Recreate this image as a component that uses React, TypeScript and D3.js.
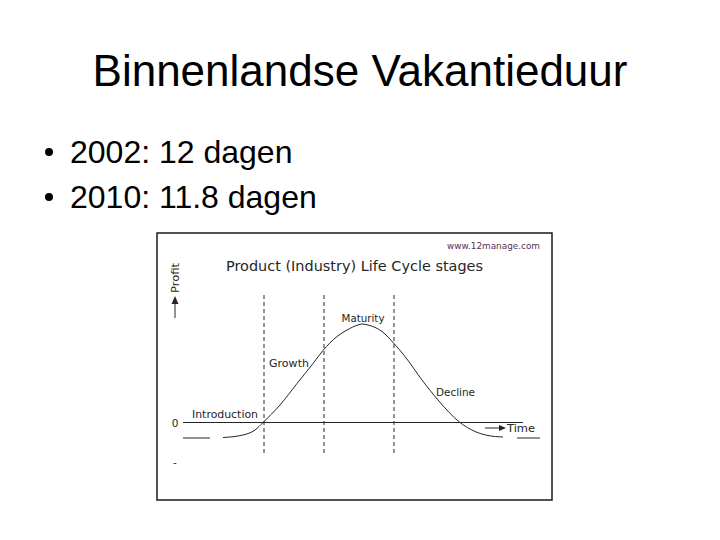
import React from 'react';
import * as d3 from 'd3';

// slide text
const slideTitle = 'Binnenlandse Vakantieduur';
const bulletLines = ['2002: 12 dagen', '2010: 11.8 dagen'];

// life cycle figure
const figTitle = 'Product (Industry) Life Cycle stages';
const sourceLabel = 'www.12manage.com';
const stageNames = ['Introduction', 'Growth', 'Maturity', 'Decline'];
const stageBounds = [8.1, 14.1, 21.1];

// profit curve (time, profit)
const curveTime = [4.0, 6.0, 7.2, 8.0, 9.7, 11.4, 13.0, 14.0, 15.4, 16.4, 17.5, 17.9, 18.5, 19.9, 21.1, 22.2, 23.9, 25.5, 27.7, 29.2, 30.5, 32.0];
const curveProfit = [-1.5, -1.25, -0.75, 0, 1.75, 3.9, 5.9, 7.2, 8.6, 9.25, 9.75, 9.85, 9.75, 9.1, 7.9, 6.6, 4.25, 2.25, 0, -0.9, -1.3, -1.45];
const leftTail = [0, 2.7];
const rightTail = [33.4, 35.7];
const tailProfit = -1.55;

const App = () => {
  const x = d3.scaleLinear().domain([0, 34]).range([183, 523]);
  const y = d3.scaleLinear().domain([0, 10]).range([422.5, 322.5]);

  const pts: [number, number][] = curveTime.map((t, i) => [t, curveProfit[i]]);
  const line = d3
    .line<[number, number]>()
    .x((d) => x(d[0]))
    .y((d) => y(d[1]))
    .curve(d3.curveMonotoneX);

  const ink = '#262626';
  const small = { fontFamily: 'DejaVu Sans, sans-serif', fontSize: 10.5, fill: ink };

  return (
    <svg width={720} height={540} style={{ position: 'absolute', left: 0, top: 0, background: '#fff' }}>
      <text x={360} y={86} textAnchor="middle" fontFamily="Liberation Sans, Arial, sans-serif" fontSize={44} fill="#000">
        {slideTitle}
      </text>
      {bulletLines.map((b, i) => (
        <g key={b}>
          <circle cx={49} cy={152 + i * 45} r={4} fill="#000" />
          <text x={70} y={163 + i * 45} fontFamily="Liberation Sans, Arial, sans-serif" fontSize={32} fill="#000">
            {b}
          </text>
        </g>
      ))}

      {/* embedded figure */}
      <rect x={157} y={233} width={395} height={267} fill="#fff" stroke="#1a1a1a" strokeWidth={1.5} />
      <text x={447} y={249} {...small} fontSize={9} fill="#5a2f5a" textLength={93} lengthAdjust="spacingAndGlyphs">
        {sourceLabel}
      </text>
      <text x={226} y={271} {...small} fontSize={14.5} textLength={257} lengthAdjust="spacingAndGlyphs">
        {figTitle}
      </text>

      {/* profit axis label */}
      <text
        transform="translate(179,293) rotate(-90)"
        {...small}
        textLength={30}
        lengthAdjust="spacingAndGlyphs"
      >
        Profit
      </text>
      <line x1={175} x2={175} y1={318} y2={302} stroke={ink} strokeWidth={1} />
      <path d="M171.5,304 L175,296 L178.5,304 Z" fill={ink} />

      {/* stage separators */}
      {stageBounds.map((b) => (
        <line key={b} x1={x(b)} x2={x(b)} y1={y(12.75)} y2={y(-3.05)} stroke={ink} strokeWidth={1} strokeDasharray="4,3" />
      ))}

      {/* zero line */}
      <line x1={x(0)} x2={x(34)} y1={y(0)} y2={y(0)} stroke={ink} strokeWidth={1.2} />
      <text x={175} y={y(0) + 4} textAnchor="middle" {...small}>0</text>
      <text x={175} y={y(-3.9) + 4} textAnchor="middle" {...small}>-</text>

      {/* tails */}
      <line x1={x(leftTail[0])} x2={x(leftTail[1])} y1={y(tailProfit)} y2={y(tailProfit)} stroke={ink} strokeWidth={1} />
      <line x1={x(rightTail[0])} x2={x(rightTail[1])} y1={y(tailProfit)} y2={y(tailProfit)} stroke={ink} strokeWidth={1} />

      <path d={line(pts) || ''} fill="none" stroke={ink} strokeWidth={1} />

      {/* time arrow */}
      <line x1={x(30.2)} x2={x(31.8)} y1={y(-0.55)} y2={y(-0.55)} stroke={ink} strokeWidth={1} />
      <path d={`M${x(31.6)},${y(-0.55) - 3} L${x(32.3)},${y(-0.55)} L${x(31.6)},${y(-0.55) + 3} Z`} fill={ink} />
      <text x={x(32.4)} y={y(-0.55) + 4} {...small} textLength={28} lengthAdjust="spacingAndGlyphs">Time</text>

      {/* stage labels */}
      <text x={x(stageBounds[0] - 0.6)} y={y(0.85) + 4} textAnchor="end" {...small} textLength={66} lengthAdjust="spacingAndGlyphs">
        {stageNames[0]}
      </text>
      <text x={x(stageBounds[0] + 0.5)} y={y(5.95) + 4} {...small} textLength={40} lengthAdjust="spacingAndGlyphs">
        {stageNames[1]}
      </text>
      <text x={x((stageBounds[1] + stageBounds[2]) / 2 + 0.4)} y={y(10.45) + 4} textAnchor="middle" {...small} textLength={43} lengthAdjust="spacingAndGlyphs">
        {stageNames[2]}
      </text>
      <text x={x(stageBounds[2] + 4.2)} y={y(3.05) + 4} {...small} textLength={39} lengthAdjust="spacingAndGlyphs">
        {stageNames[3]}
      </text>
    </svg>
  );
};

export default App;
